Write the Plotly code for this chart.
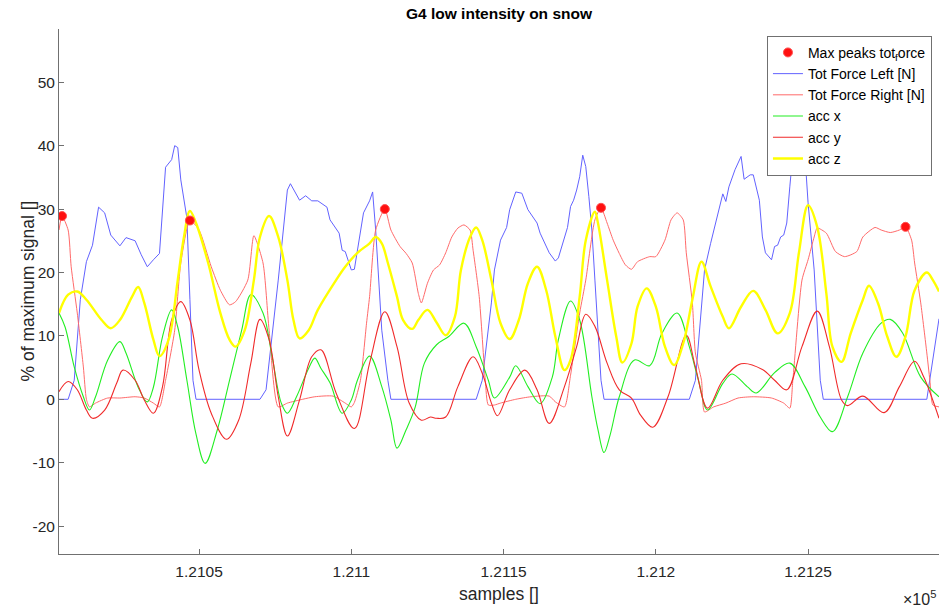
import plotly.graph_objects as go

# ---- Tot Force Left [N] (% of max) ----
left_samples = [121004, 121007, 121009, 121011, 121013, 121015, 121017, 121019, 121021, 121024,
                121026, 121029, 121031, 121033, 121035, 121037, 121039, 121041, 121042, 121043,
                121044, 121046, 121047, 121048, 121049,
                121070, 121072, 121076, 121079, 121080, 121083, 121085, 121087, 121089, 121092,
                121093, 121096, 121097, 121098, 121100, 121101, 121102, 121104, 121106, 121107,
                121108, 121110, 121112, 121113,
                121141, 121143, 121146, 121147, 121149, 121151, 121152, 121154, 121156, 121158,
                121161, 121162, 121165, 121167, 121168, 121170, 121171, 121172, 121173, 121174,
                121175, 121176, 121177, 121178, 121179, 121180, 121182, 121183,
                121211, 121213, 121216, 121218, 121220, 121222, 121223, 121224, 121226, 121228,
                121229, 121231, 121232, 121234, 121235, 121236, 121238, 121239, 121240, 121241,
                121242, 121243, 121244, 121245, 121246, 121248, 121249, 121250, 121252, 121254,
                121255,
                121289, 121291, 121293]
left_values = [0, 0, 3.0, 15.7, 21.7, 24.3, 30.3, 29.4, 25.9, 24.2,
               25.5, 25.0, 22.8, 20.9, 22.0, 23.0, 36.6, 37.8, 40.0, 39.7,
               34.6, 28.6, 15.7, 3.0, 0,
               0, 1.5, 18.8, 33.0, 34.0, 31.4, 32.1, 31.3, 31.3, 30.3,
               28.3, 26.2, 23.5, 23.3, 20.4, 20.5, 23.5, 29.4, 31.3, 32.7,
               26.7, 10.9, 3.0, 0,
               0, 3.0, 15.2, 20.4, 25.1, 27.1, 29.9, 32.7, 32.5, 29.9,
               27.8, 26.2, 23.1, 21.8, 22.3, 25.6, 27.1, 30.4, 31.4, 33.0,
               35.1, 38.5, 36.7, 32.0, 26.7, 18.8, 3.0, 0,
               0, 3.0, 20.4, 24.6, 28.3, 32.4, 31.2, 33.5, 36.2, 38.3,
               34.7, 35.4, 35.4, 31.4, 25.6, 23.1, 22.0, 24.1, 24.3, 25.6,
               25.9, 27.8, 33.5, 38.3, 44.0, 44.0, 38.3, 31.0, 20.4, 3.0,
               0,
               0, 6.2, 12.7]

# ---- Tot Force Right [N] (% of max) ----
right_samples = [121004, 121005, 121007, 121008, 121010, 121012, 121013, 121014, 121016, 121020,
                 121024, 121029, 121032, 121035, 121037, 121039, 121042, 121044, 121047, 121050,
                 121054, 121057, 121060, 121062, 121066, 121068, 121071, 121073, 121076, 121079,
                 121084, 121088, 121094, 121098, 121100, 121101, 121103, 121105, 121106, 121108,
                 121111, 121113, 121116, 121118, 121120, 121122, 121123, 121125, 121127, 121129,
                 121131, 121133, 121135, 121137, 121139, 121140, 121142, 121144, 121145, 121147,
                 121149, 121154, 121159, 121165, 121167, 121170, 121172, 121175, 121177, 121180,
                 121182, 121184, 121186, 121188, 121190, 121192, 121194, 121198, 121200, 121203,
                 121205, 121207, 121209, 121210, 121212, 121213, 121215, 121216, 121219, 121223,
                 121227, 121232, 121238, 121242, 121244, 121245, 121248, 121250, 121252, 121253,
                 121256, 121259, 121262, 121266, 121268, 121272, 121274, 121277, 121280, 121282,
                 121284, 121285, 121287, 121289, 121290, 121291, 121293]
right_values = [26.7, 28.9, 26.7, 20.9, 13.6, 5.1, 0, -1.2, -0.6, 0.2,
                0.2, 0.4, 0.2, -0.6, -1.2, 3.0, 10.9, 21.5, 28.2, 26.7,
                20.9, 17.2, 14.9, 15.4, 18.8, 25.8, 21.5, 10.9, -1.2, -0.6,
                0, 0.4, 0.5, -0.6, -1.2, -0.5, 3.0, 12.0, 16.2, 26.7,
                30.0, 26.7, 24.1, 23.0, 21.5, 16.7, 15.2, 18.3, 20.4, 21.2,
                23.1, 25.6, 27.0, 27.5, 26.7, 23.5, 16.2, 3.0, -0.9, -0.9,
                -0.6, 0, 0.4, 0.5, -0.4, -1.2, 3.8, 13.6, 18.8, 28.3,
                30.2, 27.8, 25.1, 23.0, 21.2, 20.5, 21.7, 22.5, 22.5, 25.1,
                28.3, 29.4, 28.3, 23.1, 15.2, 7.3, 3.0, -2.0, -1.2, -0.6,
                0.2, 0.4, 0.2, -0.6, -1.4, 3.0, 18.8, 22.0, 25.6, 27.0,
                26.2, 23.3, 22.5, 23.3, 25.6, 27.1, 26.7, 26.3, 26.7, 27.2,
                25.1, 21.5, 15.2, 7.3, 3.0, -0.9, -1.2]

# samples where the total-force peaks were detected
peak_samples = [121005, 121047, 121111, 121182, 121282]

# ---- acc x ----
accx_samples = [121004, 121006, 121009, 121012, 121014, 121016, 121020, 121024, 121026, 121030,
                121033, 121035, 121038, 121041, 121043, 121046, 121049, 121052, 121056, 121060,
                121064, 121067, 121071, 121074, 121077, 121079, 121082, 121086, 121088, 121090,
                121093, 121097, 121100, 121102, 121106, 121110, 121113, 121115, 121118, 121121,
                121124, 121128, 121132, 121137, 121141, 121145, 121147, 121152, 121154, 121158,
                121162, 121166, 121168, 121172, 121175, 121179, 121181, 121183, 121185, 121188,
                121193, 121198, 121202, 121207, 121211, 121214, 121217, 121222, 121225, 121230,
                121233, 121239, 121244, 121249, 121254, 121258, 121263, 121268, 121274, 121277,
                121281, 121287, 121293]
accx_values = [13.6, 11.4, 5.1, 0.4, -1.7, 0.4, 6.2, 9.1, 7.3, 1.9,
               -0.4, 1.9, 9.9, 14.1, 11.4, 3.0, -5.5, -10.1, -4.8, 3.0,
               10.9, 16.5, 13.6, 6.7, -0.6, -2.2, 0.4, 4.9, 6.5, 4.9,
               2.6, -2.2, -0.1, 3.0, 6.8, 2.0, -3.3, -7.7, -4.8, -1.2,
               5.7, 8.6, 9.9, 12.0, 8.3, 3.0, 0.2, 3.5, 5.3, 2.0,
               -0.7, 3.5, 9.4, 15.5, 12.5, 0.4, -4.8, -8.4, -5.6, 0.4,
               6.2, 5.3, 10.4, 13.6, 8.3, 3.0, -1.7, 2.5, 4.0, 2.0,
               1.0, 4.2, 5.7, 2.0, -2.8, -5.1, 0.4, 7.3, 12.0, 12.6,
               10.5, 3.5, 0.4]

# ---- acc y ----
accy_samples = [121004, 121007, 121010, 121013, 121015, 121019, 121023, 121025, 121029, 121032,
                121035, 121038, 121041, 121044, 121047, 121050, 121054, 121059, 121063, 121067,
                121070, 121073, 121076, 121079, 121083, 121087, 121090, 121095, 121101, 121106,
                121111, 121115, 121119, 121123, 121126, 121128, 121131, 121135, 121140, 121143,
                121146, 121148, 121152, 121157, 121161, 121165, 121170, 121174, 121177, 121180,
                121184, 121188, 121192, 121195, 121199, 121204, 121210, 121213, 121217, 121222,
                121228, 121235, 121239, 121243, 121248, 121253, 121257, 121261, 121263, 121268,
                121275, 121280, 121285, 121288, 121293]
accy_values = [1.2, 2.8, 1.5, -1.7, -3.0, -1.7, 2.6, 4.6, 3.0, -0.1,
               -2.2, 2.0, 12.5, 15.4, 12.5, 4.6, -2.2, -6.3, -3.3, 5.7,
               12.6, 9.4, 0.4, -5.8, -0.1, 6.7, 7.8, 1.0, -4.6, 5.7,
               13.8, 8.3, -0.6, -3.3, -2.8, -3.0, -2.8, 2.0, 6.7, 4.1,
               -0.6, -2.6, 1.5, 4.6, 1.5, -3.8, 2.0, 8.3, 13.4, 11.5,
               5.7, 1.5, 0.2, -2.5, -4.4, 0.4, 10.1, 5.1, -1.4, 3.0,
               5.6, 4.7, 3.0, 1.5, 8.3, 13.9, 8.3, -0.1, -1.0, 0.5,
               -2.1, 2.0, 6.0, 3.5, -3.0]

# ---- acc z ----
accz_samples = [121004, 121007, 121010, 121013, 121018, 121021, 121024, 121028, 121030, 121032,
                121035, 121037, 121040, 121043, 121045, 121047, 121049, 121053, 121057, 121060,
                121062, 121065, 121068, 121070, 121073, 121076, 121079, 121081, 121083, 121086,
                121089, 121095, 121098, 121102, 121106, 121108, 121110, 121112, 121115, 121117,
                121120, 121122, 121125, 121128, 121131, 121134, 121136, 121139, 121141, 121143,
                121146, 121149, 121152, 121155, 121158, 121161, 121164, 121167, 121170, 121172,
                121175, 121177, 121180, 121181, 121184, 121187, 121189, 121192, 121194, 121197,
                121200, 121203, 121206, 121209, 121212, 121215, 121218, 121222, 121224, 121228,
                121232, 121236, 121240, 121244, 121247, 121250, 121253, 121256, 121258, 121261,
                121264, 121268, 121270, 121273, 121276, 121279, 121282, 121285, 121289, 121291,
                121293]
accz_values = [13.6, 16.5, 17.0, 15.7, 12.5, 11.2, 12.5, 16.2, 17.7, 15.2,
               9.4, 6.8, 9.4, 18.8, 25.5, 29.7, 27.8, 21.5, 13.6, 9.4,
               8.3, 10.9, 18.8, 25.6, 28.9, 25.6, 18.8, 12.5, 9.6, 10.9,
               14.1, 18.8, 20.9, 23.1, 24.6, 25.6, 24.6, 21.5, 16.2, 12.5,
               11.1, 12.5, 14.1, 12.1, 10.1, 13.0, 20.4, 25.6, 27.1, 25.1,
               18.8, 12.0, 9.5, 12.5, 18.3, 20.9, 17.2, 9.9, 4.6, 6.2,
               16.2, 25.1, 29.6, 27.8, 18.8, 9.9, 5.8, 8.8, 14.6, 17.5,
               14.6, 8.3, 5.4, 8.8, 15.7, 21.7, 17.8, 13.0, 11.2, 14.6,
               17.1, 14.1, 10.4, 13.6, 23.1, 30.6, 27.2, 16.7, 8.3, 5.9,
               10.4, 15.7, 17.9, 15.1, 9.9, 6.7, 9.9, 17.2, 20.0, 18.8,
               17.0]

x_tick_vals = [121050, 121100, 121150, 121200, 121250]
x_tick_text = ["1.2105", "1.211", "1.2115", "1.212", "1.2125"]
y_tick_vals = [-20, -10, 0, 10, 20, 30, 40, 50]
y_tick_text = ["-20", "-10", "0", "10", "20", "30", "40", "50"]

FONT = "Liberation Sans, Arial, Helvetica, sans-serif"
AXIS_COLOR = "#707070"
TEXT_COLOR = "#262626"

peak_values = [right_values[right_samples.index(s)] for s in peak_samples]

fig = go.Figure()

fig.add_trace(go.Scatter(x=left_samples, y=left_values, mode="lines",
                         name="Tot Force Left [N]", legendrank=2,
                         line=dict(color="#6262ff", width=1)))
fig.add_trace(go.Scatter(x=right_samples, y=right_values, mode="lines",
                         name="Tot Force Right [N]", legendrank=3,
                         line=dict(color="#ff6a6a", width=1, shape="spline", smoothing=0.6)))
fig.add_trace(go.Scatter(x=accx_samples, y=accx_values, mode="lines",
                         name="acc x", legendrank=4,
                         line=dict(color="#22ee22", width=1.1, shape="spline", smoothing=1.0)))
fig.add_trace(go.Scatter(x=accy_samples, y=accy_values, mode="lines",
                         name="acc y", legendrank=5,
                         line=dict(color="#f02a2a", width=1.1, shape="spline", smoothing=1.0)))
fig.add_trace(go.Scatter(x=accz_samples, y=accz_values, mode="lines",
                         name="acc z", legendrank=6,
                         line=dict(color="#ffff00", width=2.4, shape="spline", smoothing=1.0)))
fig.add_trace(go.Scatter(x=peak_samples, y=peak_values, mode="markers",
                         name="Max peaks tot<sub>f</sub>orce", legendrank=1,
                         marker=dict(color="#ff1010", size=9, symbol="circle",
                                     line=dict(color="#ff5050", width=1))))

axis_common = dict(
    showline=True, linecolor=AXIS_COLOR, linewidth=1, mirror=False,
    showgrid=False, zeroline=False,
    ticks="inside", ticklen=5, tickwidth=1, tickcolor=AXIS_COLOR,
    tickfont=dict(family=FONT, size=15.5, color=TEXT_COLOR),
)

fig.update_layout(
    width=940, height=607,
    margin=dict(l=59, r=1, t=29, b=53),
    paper_bgcolor="white", plot_bgcolor="white",
    font=dict(family=FONT, color=TEXT_COLOR),
    showlegend=True,
    title=dict(text="<b>G4 low intensity on snow</b>",
               font=dict(family=FONT, size=15.5, color="#000000"),
               x=499 / 940, xanchor="center", xref="container",
               y=1 - 14 / 607, yanchor="middle", yref="container"),
    xaxis=dict(range=[121004, 121293], tickvals=x_tick_vals, ticktext=x_tick_text,
               ticklabelstandoff=3, automargin=False, **axis_common),
    yaxis=dict(range=[-24.4, 58.4], tickvals=y_tick_vals, ticktext=y_tick_text,
               automargin=False, **axis_common),
    legend=dict(x=0.992, xanchor="right", y=0.987, yanchor="top",
                bgcolor="white", bordercolor=AXIS_COLOR, borderwidth=1,
                font=dict(family=FONT, size=14, color="#000000"),
                tracegroupgap=0, itemwidth=30),
    annotations=[
        dict(text="samples []", xref="paper", yref="paper", x=0.5, y=0,
             xanchor="center", yanchor="middle", yshift=-40, showarrow=False,
             font=dict(family=FONT, size=17.5, color=TEXT_COLOR)),
        dict(text="% of maximum signal []", xref="paper", yref="paper", x=0, y=0.5,
             xanchor="center", yanchor="middle", xshift=-32, textangle=-90,
             showarrow=False, font=dict(family=FONT, size=17.5, color=TEXT_COLOR)),
        dict(text="×10<sup>5</sup>", xref="paper", yref="paper", x=1, y=0,
             xanchor="right", yanchor="middle", xshift=-1, yshift=-44, showarrow=False,
             font=dict(family=FONT, size=16, color=TEXT_COLOR)),
    ],
)

fig.write_html("out.html")
